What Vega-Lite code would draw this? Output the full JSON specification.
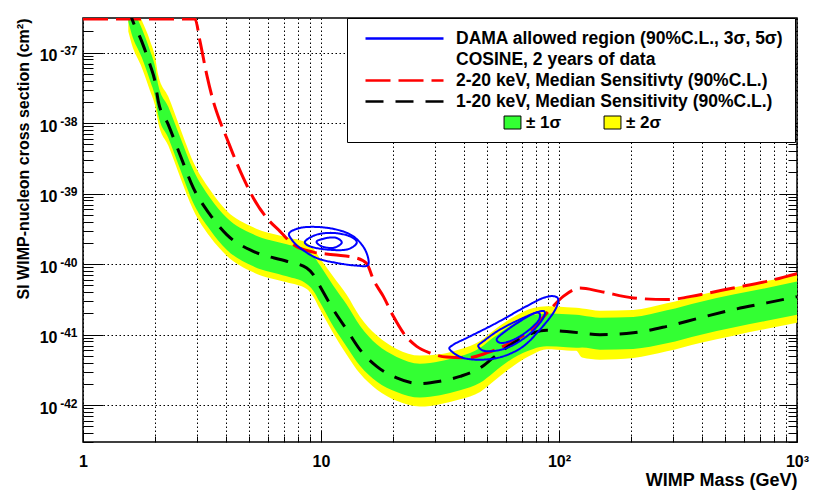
{
  "$schema": "https://vega.github.io/schema/vega-lite/v6.json",
  "width": 714,
  "height": 424,
  "autosize": "none",
  "padding": {"left": 83, "top": 18, "right": 33, "bottom": 50},
  "background": "white",
  "config": {
    "view": {"stroke": "black", "strokeWidth": 1.5},
    "font": "Liberation Sans"
  },
  "datasets": {
    "band": [
      {"m": 1.55, "band": "± 2σ", "hi": 7.36e-37, "lo": 2.0e-37}, {"m": 1.55, "band": "± 1σ", "hi": 6.05e-37, "lo": 2.76e-37},
      {"m": 1.6, "band": "± 2σ", "hi": 5.64e-37, "lo": 1.34e-37}, {"m": 1.6, "band": "± 1σ", "hi": 4.63e-37, "lo": 1.86e-37},
      {"m": 1.765, "band": "± 2σ", "hi": 2.87e-37, "lo": 6.18e-38}, {"m": 1.765, "band": "± 1σ", "hi": 2.21e-37, "lo": 8.57e-38},
      {"m": 1.912, "band": "± 2σ", "hi": 1.48e-37, "lo": 2.89e-38}, {"m": 1.912, "band": "± 1σ", "hi": 1.07e-37, "lo": 4.01e-38},
      {"m": 2.006, "band": "± 2σ", "hi": 8.87e-38, "lo": 1.79e-38}, {"m": 2.006, "band": "± 1σ", "hi": 6.40e-38, "lo": 2.40e-38},
      {"m": 2.072, "band": "± 2σ", "hi": 4.76e-38, "lo": 9.93e-39}, {"m": 2.072, "band": "± 1σ", "hi": 3.44e-38, "lo": 1.29e-38},
      {"m": 2.282, "band": "± 2σ", "hi": 2.38e-38, "lo": 4.80e-39}, {"m": 2.282, "band": "± 1σ", "hi": 1.71e-38, "lo": 6.23e-39},
      {"m": 2.556, "band": "± 2σ", "hi": 8.63e-39, "lo": 1.74e-39}, {"m": 2.556, "band": "± 1σ", "hi": 6.43e-39, "lo": 2.26e-39},
      {"m": 2.907, "band": "± 2σ", "hi": 2.82e-39, "lo": 5.87e-40}, {"m": 2.907, "band": "± 1σ", "hi": 2.17e-39, "lo": 7.38e-40},
      {"m": 3.417, "band": "± 2σ", "hi": 1.14e-39, "lo": 2.45e-40}, {"m": 3.417, "band": "± 1σ", "hi": 8.77e-40, "lo": 3.08e-40},
      {"m": 4.016, "band": "± 2σ", "hi": 5.73e-40, "lo": 1.32e-40}, {"m": 4.016, "band": "± 1σ", "hi": 4.56e-40, "lo": 1.60e-40},
      {"m": 5.195, "band": "± 2σ", "hi": 3.33e-40, "lo": 7.66e-41}, {"m": 5.195, "band": "± 1σ", "hi": 2.65e-40, "lo": 9.31e-41},
      {"m": 7.176, "band": "± 2σ", "hi": 2.40e-40, "lo": 5.52e-41}, {"m": 7.176, "band": "± 1σ", "hi": 1.91e-40, "lo": 6.71e-41},
      {"m": 8.71, "band": "± 2σ", "hi": 2.00e-40, "lo": 4.45e-41}, {"m": 8.71, "band": "± 1σ", "hi": 1.59e-40, "lo": 5.24e-41},
      {"m": 9.28, "band": "± 2σ", "hi": 1.66e-40, "lo": 3.46e-41}, {"m": 9.28, "band": "± 1σ", "hi": 1.32e-40, "lo": 4.21e-41},
      {"m": 9.9, "band": "± 2σ", "hi": 1.21e-40, "lo": 2.29e-41}, {"m": 9.9, "band": "± 1σ", "hi": 9.61e-41, "lo": 2.87e-41},
      {"m": 11.27, "band": "± 2σ", "hi": 6.65e-41, "lo": 1.04e-41}, {"m": 11.27, "band": "± 1σ", "hi": 4.95e-41, "lo": 1.30e-41},
      {"m": 12.82, "band": "± 2σ", "hi": 3.69e-41, "lo": 5.20e-42}, {"m": 12.82, "band": "± 1σ", "hi": 2.67e-41, "lo": 6.76e-42},
      {"m": 14.58, "band": "± 2σ", "hi": 1.80e-41, "lo": 2.80e-42}, {"m": 14.58, "band": "± 1σ", "hi": 1.34e-41, "lo": 3.63e-42},
      {"m": 17.14, "band": "± 2σ", "hi": 9.77e-42, "lo": 1.67e-42}, {"m": 17.14, "band": "± 1σ", "hi": 7.28e-42, "lo": 2.17e-42},
      {"m": 20.8, "band": "± 2σ", "hi": 6.27e-42, "lo": 1.15e-42}, {"m": 20.8, "band": "± 1σ", "hi": 4.83e-42, "lo": 1.54e-42},
      {"m": 26.06, "band": "± 2σ", "hi": 5.04e-42, "lo": 9.53e-43}, {"m": 26.06, "band": "± 1σ", "hi": 3.88e-42, "lo": 1.28e-42},
      {"m": 31.6, "band": "± 2σ", "hi": 5.26e-42, "lo": 1.03e-42}, {"m": 31.6, "band": "± 1σ", "hi": 4.19e-42, "lo": 1.38e-42},
      {"m": 38.4, "band": "± 2σ", "hi": 6.19e-42, "lo": 1.21e-42}, {"m": 38.4, "band": "± 1σ", "hi": 4.93e-42, "lo": 1.62e-42},
      {"m": 46.6, "band": "± 2σ", "hi": 8.15e-42, "lo": 1.54e-42}, {"m": 46.6, "band": "± 1σ", "hi": 6.49e-42, "lo": 2.07e-42},
      {"m": 53.0, "band": "± 2σ", "hi": 1.14e-41, "lo": 2.16e-42}, {"m": 53.0, "band": "± 1σ", "hi": 9.08e-42, "lo": 2.89e-42},
      {"m": 64.3, "band": "± 2σ", "hi": 1.78e-41, "lo": 3.60e-42}, {"m": 64.3, "band": "± 1σ", "hi": 1.42e-41, "lo": 4.67e-42},
      {"m": 78.0, "band": "± 2σ", "hi": 2.39e-41, "lo": 5.32e-42}, {"m": 78.0, "band": "± 1σ", "hi": 1.90e-41, "lo": 6.27e-42},
      {"m": 88.8, "band": "± 2σ", "hi": 2.52e-41, "lo": 6.18e-42}, {"m": 88.8, "band": "± 1σ", "hi": 2.00e-41, "lo": 6.82e-42},
      {"m": 107.7, "band": "± 2σ", "hi": 2.44e-41, "lo": 5.98e-42}, {"m": 107.7, "band": "± 1σ", "hi": 1.94e-41, "lo": 6.61e-42},
      {"m": 118, "band": "± 2σ", "hi": 2.40e-41, "lo": 5.89e-42}, {"m": 118, "band": "± 1σ", "hi": 1.91e-41, "lo": 6.50e-42},
      {"m": 125, "band": "± 2σ", "hi": 2.35e-41, "lo": 4.73e-42}, {"m": 125, "band": "± 1σ", "hi": 1.87e-41, "lo": 6.56e-42},
      {"m": 148.6, "band": "± 2σ", "hi": 2.19e-41, "lo": 4.42e-42}, {"m": 148.6, "band": "± 1σ", "hi": 1.74e-41, "lo": 6.12e-42},
      {"m": 205, "band": "± 2σ", "hi": 2.24e-41, "lo": 4.67e-42}, {"m": 205, "band": "± 1σ", "hi": 1.78e-41, "lo": 6.27e-42},
      {"m": 284, "band": "± 2σ", "hi": 2.78e-41, "lo": 5.79e-42}, {"m": 284, "band": "± 1σ", "hi": 2.21e-41, "lo": 7.53e-42},
      {"m": 391, "band": "± 2σ", "hi": 3.66e-41, "lo": 7.62e-42}, {"m": 391, "band": "± 1σ", "hi": 2.91e-41, "lo": 9.91e-42},
      {"m": 540, "band": "± 2σ", "hi": 4.65e-41, "lo": 9.68e-42}, {"m": 540, "band": "± 1σ", "hi": 3.70e-41, "lo": 1.26e-41},
      {"m": 746, "band": "± 2σ", "hi": 5.78e-41, "lo": 1.21e-41}, {"m": 746, "band": "± 1σ", "hi": 4.60e-41, "lo": 1.57e-41},
      {"m": 1000, "band": "± 2σ", "hi": 7.10e-41, "lo": 1.48e-41}, {"m": 1000, "band": "± 1σ", "hi": 5.65e-41, "lo": 1.92e-41}
    ],
    "limits": [
      {"series": "2-20 keV, Median Sensitivty (90%C.L.)", "m": 1, "s": 3.0e-37},
      {"series": "2-20 keV, Median Sensitivty (90%C.L.)", "m": 2.955, "s": 3.0e-37},
      {"series": "2-20 keV, Median Sensitivty (90%C.L.)", "m": 3.102, "s": 1.445e-37},
      {"series": "2-20 keV, Median Sensitivty (90%C.L.)", "m": 3.31, "s": 4.88e-38},
      {"series": "2-20 keV, Median Sensitivty (90%C.L.)", "m": 3.528, "s": 2.04e-38},
      {"series": "2-20 keV, Median Sensitivty (90%C.L.)", "m": 3.764, "s": 1.06e-38},
      {"series": "2-20 keV, Median Sensitivty (90%C.L.)", "m": 4.016, "s": 6.16e-39},
      {"series": "2-20 keV, Median Sensitivty (90%C.L.)", "m": 4.28, "s": 3.57e-39},
      {"series": "2-20 keV, Median Sensitivty (90%C.L.)", "m": 4.716, "s": 1.67e-39},
      {"series": "2-20 keV, Median Sensitivty (90%C.L.)", "m": 5.195, "s": 8.68e-40},
      {"series": "2-20 keV, Median Sensitivty (90%C.L.)", "m": 5.915, "s": 4.52e-40},
      {"series": "2-20 keV, Median Sensitivty (90%C.L.)", "m": 6.725, "s": 2.92e-40},
      {"series": "2-20 keV, Median Sensitivty (90%C.L.)", "m": 7.65, "s": 1.89e-40},
      {"series": "2-20 keV, Median Sensitivty (90%C.L.)", "m": 9.28, "s": 1.48e-40},
      {"series": "2-20 keV, Median Sensitivty (90%C.L.)", "m": 11.27, "s": 1.36e-40},
      {"series": "2-20 keV, Median Sensitivty (90%C.L.)", "m": 14.13, "s": 1.22e-40},
      {"series": "2-20 keV, Median Sensitivty (90%C.L.)", "m": 15.56, "s": 1.02e-40},
      {"series": "2-20 keV, Median Sensitivty (90%C.L.)", "m": 16.6, "s": 6.03e-41},
      {"series": "2-20 keV, Median Sensitivty (90%C.L.)", "m": 18.28, "s": 3.49e-41},
      {"series": "2-20 keV, Median Sensitivty (90%C.L.)", "m": 20.14, "s": 1.82e-41},
      {"series": "2-20 keV, Median Sensitivty (90%C.L.)", "m": 22.18, "s": 1.06e-41},
      {"series": "2-20 keV, Median Sensitivty (90%C.L.)", "m": 25.24, "s": 6.82e-42},
      {"series": "2-20 keV, Median Sensitivty (90%C.L.)", "m": 28.7, "s": 5.49e-42},
      {"series": "2-20 keV, Median Sensitivty (90%C.L.)", "m": 33.7, "s": 4.80e-42},
      {"series": "2-20 keV, Median Sensitivty (90%C.L.)", "m": 40.9, "s": 4.68e-42},
      {"series": "2-20 keV, Median Sensitivty (90%C.L.)", "m": 49.7, "s": 5.50e-42},
      {"series": "2-20 keV, Median Sensitivty (90%C.L.)", "m": 62.2, "s": 7.62e-42},
      {"series": "2-20 keV, Median Sensitivty (90%C.L.)", "m": 78.0, "s": 1.24e-41},
      {"series": "2-20 keV, Median Sensitivty (90%C.L.)", "m": 91.6, "s": 2.26e-41},
      {"series": "2-20 keV, Median Sensitivty (90%C.L.)", "m": 104.2, "s": 3.49e-41},
      {"series": "2-20 keV, Median Sensitivty (90%C.L.)", "m": 122.5, "s": 4.57e-41},
      {"series": "2-20 keV, Median Sensitivty (90%C.L.)", "m": 148.6, "s": 4.11e-41},
      {"series": "2-20 keV, Median Sensitivty (90%C.L.)", "m": 205, "s": 3.32e-41},
      {"series": "2-20 keV, Median Sensitivty (90%C.L.)", "m": 284, "s": 3.14e-41},
      {"series": "2-20 keV, Median Sensitivty (90%C.L.)", "m": 391, "s": 3.69e-41},
      {"series": "2-20 keV, Median Sensitivty (90%C.L.)", "m": 540, "s": 4.59e-41},
      {"series": "2-20 keV, Median Sensitivty (90%C.L.)", "m": 746, "s": 5.70e-41},
      {"series": "2-20 keV, Median Sensitivty (90%C.L.)", "m": 1000, "s": 7.33e-41},
      {"series": "1-20 keV, Median Sensitivity (90%C.L.)", "m": 1.55, "s": 4.37e-37},
      {"series": "1-20 keV, Median Sensitivity (90%C.L.)", "m": 1.6, "s": 3.13e-37},
      {"series": "1-20 keV, Median Sensitivity (90%C.L.)", "m": 1.765, "s": 1.445e-37},
      {"series": "1-20 keV, Median Sensitivity (90%C.L.)", "m": 1.912, "s": 6.76e-38},
      {"series": "1-20 keV, Median Sensitivity (90%C.L.)", "m": 2.006, "s": 3.92e-38},
      {"series": "1-20 keV, Median Sensitivity (90%C.L.)", "m": 2.072, "s": 2.04e-38},
      {"series": "1-20 keV, Median Sensitivity (90%C.L.)", "m": 2.282, "s": 9.53e-39},
      {"series": "1-20 keV, Median Sensitivity (90%C.L.)", "m": 2.556, "s": 3.57e-39},
      {"series": "1-20 keV, Median Sensitivity (90%C.L.)", "m": 2.907, "s": 1.21e-39},
      {"series": "1-20 keV, Median Sensitivity (90%C.L.)", "m": 3.417, "s": 5.04e-40},
      {"series": "1-20 keV, Median Sensitivity (90%C.L.)", "m": 4.016, "s": 2.62e-40},
      {"series": "1-20 keV, Median Sensitivity (90%C.L.)", "m": 5.195, "s": 1.52e-40},
      {"series": "1-20 keV, Median Sensitivity (90%C.L.)", "m": 7.176, "s": 1.10e-40},
      {"series": "1-20 keV, Median Sensitivity (90%C.L.)", "m": 8.71, "s": 8.83e-41},
      {"series": "1-20 keV, Median Sensitivity (90%C.L.)", "m": 9.28, "s": 7.10e-41},
      {"series": "1-20 keV, Median Sensitivity (90%C.L.)", "m": 9.9, "s": 4.84e-41},
      {"series": "1-20 keV, Median Sensitivity (90%C.L.)", "m": 11.27, "s": 2.26e-41},
      {"series": "1-20 keV, Median Sensitivity (90%C.L.)", "m": 12.82, "s": 1.18e-41},
      {"series": "1-20 keV, Median Sensitivity (90%C.L.)", "m": 14.58, "s": 6.12e-42},
      {"series": "1-20 keV, Median Sensitivity (90%C.L.)", "m": 17.14, "s": 3.55e-42},
      {"series": "1-20 keV, Median Sensitivity (90%C.L.)", "m": 20.8, "s": 2.43e-42},
      {"series": "1-20 keV, Median Sensitivity (90%C.L.)", "m": 26.06, "s": 2.02e-42},
      {"series": "1-20 keV, Median Sensitivity (90%C.L.)", "m": 31.6, "s": 2.18e-42},
      {"series": "1-20 keV, Median Sensitivity (90%C.L.)", "m": 38.4, "s": 2.56e-42},
      {"series": "1-20 keV, Median Sensitivity (90%C.L.)", "m": 46.6, "s": 3.37e-42},
      {"series": "1-20 keV, Median Sensitivity (90%C.L.)", "m": 53.0, "s": 4.72e-42},
      {"series": "1-20 keV, Median Sensitivity (90%C.L.)", "m": 64.3, "s": 7.62e-42},
      {"series": "1-20 keV, Median Sensitivity (90%C.L.)", "m": 78.0, "s": 1.06e-41},
      {"series": "1-20 keV, Median Sensitivity (90%C.L.)", "m": 88.8, "s": 1.15e-41},
      {"series": "1-20 keV, Median Sensitivity (90%C.L.)", "m": 107.7, "s": 1.11e-41},
      {"series": "1-20 keV, Median Sensitivity (90%C.L.)", "m": 148.6, "s": 1.00e-41},
      {"series": "1-20 keV, Median Sensitivity (90%C.L.)", "m": 205, "s": 1.06e-41},
      {"series": "1-20 keV, Median Sensitivity (90%C.L.)", "m": 284, "s": 1.31e-41},
      {"series": "1-20 keV, Median Sensitivity (90%C.L.)", "m": 391, "s": 1.73e-41},
      {"series": "1-20 keV, Median Sensitivity (90%C.L.)", "m": 540, "s": 2.26e-41},
      {"series": "1-20 keV, Median Sensitivity (90%C.L.)", "m": 746, "s": 2.82e-41},
      {"series": "1-20 keV, Median Sensitivity (90%C.L.)", "m": 1000, "s": 3.46e-41}
    ],
    "dama": [
      {"contour": "low-90", "i": 1, "m": 7.36, "s": 2.77e-40},
      {"contour": "low-90", "i": 2, "m": 8.16, "s": 3.26e-40},
      {"contour": "low-90", "i": 3, "m": 9.59, "s": 3.37e-40},
      {"contour": "low-90", "i": 4, "m": 11.64, "s": 3.09e-40},
      {"contour": "low-90", "i": 5, "m": 13.67, "s": 2.48e-40},
      {"contour": "low-90", "i": 6, "m": 15.31, "s": 1.61e-40},
      {"contour": "low-90", "i": 7, "m": 15.8, "s": 9.84e-41},
      {"contour": "low-90", "i": 8, "m": 14.13, "s": 9.53e-41},
      {"contour": "low-90", "i": 9, "m": 11.64, "s": 1.04e-40},
      {"contour": "low-90", "i": 10, "m": 9.59, "s": 1.22e-40},
      {"contour": "low-90", "i": 11, "m": 8.16, "s": 1.70e-40},
      {"contour": "low-90", "i": 12, "m": 7.53, "s": 2.23e-40},
      {"contour": "low-3s", "i": 1, "m": 8.57, "s": 2.10e-40},
      {"contour": "low-3s", "i": 2, "m": 9.59, "s": 2.62e-40},
      {"contour": "low-3s", "i": 3, "m": 11.27, "s": 2.77e-40},
      {"contour": "low-3s", "i": 4, "m": 13.24, "s": 2.48e-40},
      {"contour": "low-3s", "i": 5, "m": 14.13, "s": 2.00e-40},
      {"contour": "low-3s", "i": 6, "m": 12.82, "s": 1.61e-40},
      {"contour": "low-3s", "i": 7, "m": 10.57, "s": 1.61e-40},
      {"contour": "low-3s", "i": 8, "m": 8.99, "s": 1.79e-40},
      {"contour": "low-5s", "i": 1, "m": 9.59, "s": 2.10e-40},
      {"contour": "low-5s", "i": 2, "m": 10.57, "s": 2.35e-40},
      {"contour": "low-5s", "i": 3, "m": 11.64, "s": 2.35e-40},
      {"contour": "low-5s", "i": 4, "m": 12.22, "s": 2.00e-40},
      {"contour": "low-5s", "i": 5, "m": 11.27, "s": 1.70e-40},
      {"contour": "low-5s", "i": 6, "m": 10.07, "s": 1.79e-40},
      {"contour": "high-90", "i": 1, "m": 34.8, "s": 6.12e-42},
      {"contour": "high-90", "i": 2, "m": 39.6, "s": 4.67e-42},
      {"contour": "high-90", "i": 3, "m": 48.1, "s": 4.42e-42},
      {"contour": "high-90", "i": 4, "m": 58.3, "s": 4.92e-42},
      {"contour": "high-90", "i": 5, "m": 70.8, "s": 6.82e-42},
      {"contour": "high-90", "i": 6, "m": 83.2, "s": 1.18e-41},
      {"contour": "high-90", "i": 7, "m": 94.6, "s": 2.03e-41},
      {"contour": "high-90", "i": 8, "m": 99.3, "s": 2.97e-41},
      {"contour": "high-90", "i": 9, "m": 96.2, "s": 3.49e-41},
      {"contour": "high-90", "i": 10, "m": 85.9, "s": 3.32e-41},
      {"contour": "high-90", "i": 11, "m": 70.8, "s": 2.39e-41},
      {"contour": "high-90", "i": 12, "m": 54.7, "s": 1.47e-41},
      {"contour": "high-90", "i": 13, "m": 42.3, "s": 9.46e-42},
      {"contour": "high-90", "i": 14, "m": 36.0, "s": 7.21e-42},
      {"contour": "high-3s", "i": 1, "m": 45.8, "s": 6.82e-42},
      {"contour": "high-3s", "i": 2, "m": 49.7, "s": 5.80e-42},
      {"contour": "high-3s", "i": 3, "m": 60.3, "s": 6.47e-42},
      {"contour": "high-3s", "i": 4, "m": 73.2, "s": 9.46e-42},
      {"contour": "high-3s", "i": 5, "m": 83.2, "s": 1.47e-41},
      {"contour": "high-3s", "i": 6, "m": 87.3, "s": 2.03e-41},
      {"contour": "high-3s", "i": 7, "m": 83.2, "s": 2.14e-41},
      {"contour": "high-3s", "i": 8, "m": 70.8, "s": 1.73e-41},
      {"contour": "high-3s", "i": 9, "m": 56.5, "s": 1.18e-41},
      {"contour": "high-3s", "i": 10, "m": 48.1, "s": 8.04e-42},
      {"contour": "high-5s", "i": 1, "m": 54.7, "s": 8.49e-42},
      {"contour": "high-5s", "i": 2, "m": 58.3, "s": 7.62e-42},
      {"contour": "high-5s", "i": 3, "m": 68.6, "s": 9.46e-42},
      {"contour": "high-5s", "i": 4, "m": 80.6, "s": 1.47e-41},
      {"contour": "high-5s", "i": 5, "m": 83.2, "s": 1.92e-41},
      {"contour": "high-5s", "i": 6, "m": 79.3, "s": 2.03e-41},
      {"contour": "high-5s", "i": 7, "m": 68.6, "s": 1.55e-41},
      {"contour": "high-5s", "i": 8, "m": 58.3, "s": 1.06e-41}
    ]
  },
  "encoding": {
    "x": {
      "field": "m",
      "type": "quantitative",
      "scale": {"type": "log", "domain": [1, 1000], "nice": false},
      "axis": {
        "title": "WIMP Mass (GeV)",
        "titleAnchor": "end",
        "titleFont": "Liberation Sans",
        "titleFontSize": 18,
        "titleFontWeight": "bold",
        "titleColor": "black",
        "titleBaseline": "alphabetic",
        "titleY": 43,
        "values": [1, 2, 3, 4, 5, 6, 7, 8, 9, 10, 20, 30, 40, 50, 60, 70, 80, 90, 100, 200, 300, 400, 500, 600, 700, 800, 900, 1000],
        "labelExpr": "datum.value == 1 ? '1' : datum.value == 10 ? '10' : datum.value == 100 ? '10²' : datum.value == 1000 ? '10³' : ''",
        "labelFont": "Liberation Sans",
        "labelFontSize": 16,
        "labelFontWeight": "bold",
        "labelColor": "black",
        "labelPadding": 23,
        "labelOverlap": false,
        "labelFlush": false,
        "labelBound": false,
        "tickSize": {"condition": {"test": "datum.value == 1 || datum.value == 10 || datum.value == 100 || datum.value == 1000", "value": -12}, "value": -6},
        "tickColor": "black",
        "tickWidth": 1,
        "grid": true,
        "gridColor": "black",
        "gridDash": [1.5, 2.5],
        "gridWidth": 1,
        "domain": false
      }
    }
  },
  "layer": [
    {
      "data": {"name": "band"},
      "transform": [{"filter": "datum.band == '± 2σ'"}],
      "mark": {"type": "area", "interpolate": "monotone", "clip": true},
      "encoding": {
        "y": {
          "field": "hi",
          "type": "quantitative",
          "scale": {"type": "log", "domain": [3.0e-43, 3.1e-37], "nice": false},
          "axis": {
            "orient": "left",
            "title": "SI WIMP-nucleon cross section (cm²)",
            "titleAnchor": "end",
            "titleFont": "Liberation Sans",
            "titleFontSize": 16,
            "titleFontWeight": "bold",
            "titleColor": "black",
            "titleBaseline": "alphabetic",
            "titleX": -55,
            "values": [3e-43, 4e-43, 5e-43, 6e-43, 7e-43, 8e-43, 9e-43, 1e-42, 2e-42, 3e-42, 4e-42, 5e-42, 6e-42, 7e-42, 8e-42, 9e-42, 1e-41, 2e-41, 3e-41, 4e-41, 5e-41, 6e-41, 7e-41, 8e-41, 9e-41, 1e-40, 2e-40, 3e-40, 4e-40, 5e-40, 6e-40, 7e-40, 8e-40, 9e-40, 1e-39, 2e-39, 3e-39, 4e-39, 5e-39, 6e-39, 7e-39, 8e-39, 9e-39, 1e-38, 2e-38, 3e-38, 4e-38, 5e-38, 6e-38, 7e-38, 8e-38, 9e-38, 1e-37, 2e-37, 3e-37],
            "labelExpr": "abs(log(datum.value) / LN10 - round(log(datum.value) / LN10)) < 0.001 ? '10' : ''",
            "labelFont": "Liberation Sans",
            "labelFontSize": 16,
            "labelFontWeight": "bold",
            "labelColor": "black",
            "labelPadding": 46,
            "labelOffset": 3,
            "labelOverlap": false,
            "labelBound": false,
            "tickSize": {"condition": {"test": "abs(log(datum.value) / LN10 - round(log(datum.value) / LN10)) < 0.001", "value": -20}, "value": -10},
            "tickColor": "black",
            "tickWidth": 1,
            "grid": true,
            "gridColor": "black",
            "gridDash": [1.5, 2.5],
            "gridWidth": 1,
            "gridOpacity": {"condition": {"test": "abs(log(datum.value) / LN10 - round(log(datum.value) / LN10)) < 0.001", "value": 1}, "value": 0},
            "domain": false
          }
        },
        "y2": {"field": "lo"},
        "fill": {
          "field": "band",
          "type": "nominal",
          "scale": {"domain": ["± 1σ", "± 2σ"], "range": ["#33ff33", "#ffff00"]},
          "legend": {
            "orient": "none",
            "legendX": 421,
            "legendY": 96,
            "direction": "horizontal",
            "title": null,
            "symbolType": "M-1.3,-1H1.3V1H-1.3Z",
            "symbolSize": 169,
            "symbolOpacity": 1,
            "labelFont": "Liberation Sans",
            "labelFontSize": 17,
            "labelFontWeight": "bold",
            "labelColor": "black",
            "labelOffset": 5,
            "columnPadding": 40,
            "padding": 0,
            "zindex": 2,
            "encode": {"symbols": {"update": {"stroke": {"value": "black"}, "strokeWidth": {"value": 1}}}}
          }
        }
      }
    },
    {
      "data": {"name": "band"},
      "transform": [{"filter": "datum.band == '± 1σ'"}],
      "mark": {"type": "area", "interpolate": "monotone", "clip": true},
      "encoding": {
        "y": {
          "field": "hi",
          "type": "quantitative",
          "scale": {"type": "log", "domain": [3.0e-43, 3.1e-37], "nice": false},
          "axis": {
            "orient": "right",
            "title": null,
            "values": [3e-43, 4e-43, 5e-43, 6e-43, 7e-43, 8e-43, 9e-43, 1e-42, 2e-42, 3e-42, 4e-42, 5e-42, 6e-42, 7e-42, 8e-42, 9e-42, 1e-41, 2e-41, 3e-41, 4e-41, 5e-41, 6e-41, 7e-41, 8e-41, 9e-41, 1e-40, 2e-40, 3e-40, 4e-40, 5e-40, 6e-40, 7e-40, 8e-40, 9e-40, 1e-39, 2e-39, 3e-39, 4e-39, 5e-39, 6e-39, 7e-39, 8e-39, 9e-39, 1e-38, 2e-38, 3e-38, 4e-38, 5e-38, 6e-38, 7e-38, 8e-38, 9e-38, 1e-37, 2e-37, 3e-37],
            "labels": false,
            "grid": false,
            "domain": false,
            "tickSize": {"condition": {"test": "abs(log(datum.value) / LN10 - round(log(datum.value) / LN10)) < 0.001", "value": -18}, "value": -9},
            "tickColor": "black",
            "tickWidth": 1
          }
        },
        "y2": {"field": "lo"},
        "fill": {"field": "band", "type": "nominal", "scale": {"domain": ["± 1σ", "± 2σ"], "range": ["#33ff33", "#ffff00"]}}
      }
    },
    {
      "data": {"name": "limits"},
      "mark": {"type": "line", "interpolate": "monotone", "strokeWidth": 3, "clip": true},
      "encoding": {
        "y": {
          "field": "s",
          "type": "quantitative",
          "scale": {"type": "log", "domain": [3.0e-43, 3.1e-37], "nice": false},
          "axis": {
            "orient": "left",
            "title": null,
            "values": [1e-42, 1e-41, 1e-40, 1e-39, 1e-38, 1e-37],
            "labelExpr": "'' + round(log(datum.value) / LN10)",
            "labelFont": "Liberation Sans",
            "labelFontSize": 12,
            "labelFontWeight": "bold",
            "labelColor": "black",
            "labelPadding": 6,
            "labelOffset": -2,
            "labelOverlap": false,
            "labelBound": false,
            "ticks": false,
            "grid": false,
            "domain": false
          }
        },
        "stroke": {
          "field": "series",
          "type": "nominal",
          "scale": {
            "domain": ["DAMA allowed region (90%C.L., 3σ, 5σ)", "COSINE, 2 years of data", "2-20 keV, Median Sensitivty (90%C.L.)", "1-20 keV, Median Sensitivity (90%C.L.)", " "],
            "range": ["#0000ff", "transparent", "#ff0000", "#000000", "transparent"]
          },
          "legend": {
            "orient": "none",
            "legendX": 264,
            "legendY": 0,
            "title": null,
            "symbolType": "M-0.25,0H9.5",
            "symbolSize": 256,
            "symbolStrokeWidth": 2.5,
            "labelFont": "Liberation Sans",
            "labelFontSize": 17.5,
            "labelFontWeight": "bold",
            "labelColor": "black",
            "labelOffset": 79,
            "labelLimit": 0,
            "labelExpr": "datum.label == 'COSINE, 2 years of data' ? '  ' + datum.label : datum.label",
            "rowPadding": 3,
            "padding": 11,
            "strokeColor": "black",
            "fillColor": "white",
            "zindex": 1
          }
        },
        "strokeDash": {
          "field": "series",
          "type": "nominal",
          "scale": {
            "domain": ["DAMA allowed region (90%C.L., 3σ, 5σ)", "COSINE, 2 years of data", "2-20 keV, Median Sensitivty (90%C.L.)", "1-20 keV, Median Sensitivity (90%C.L.)", " "],
            "range": [[1, 0], [1, 0], [25, 8], [18, 12], [1, 0]]
          }
        }
      }
    },
    {
      "data": {"name": "dama"},
      "mark": {"type": "line", "interpolate": "cardinal-closed", "strokeWidth": 2, "clip": true},
      "encoding": {
        "y": {"field": "s", "type": "quantitative", "scale": {"type": "log", "domain": [3.0e-43, 3.1e-37], "nice": false}, "axis": null},
        "detail": {"field": "contour", "type": "nominal"},
        "order": {"field": "i", "type": "quantitative"},
        "stroke": {"datum": "DAMA allowed region (90%C.L., 3σ, 5σ)", "type": "nominal"},
        "strokeDash": {"datum": "DAMA allowed region (90%C.L., 3σ, 5σ)", "type": "nominal"}
      }
    }
  ],
  "resolve": {"axis": {"y": "independent"}}
}
